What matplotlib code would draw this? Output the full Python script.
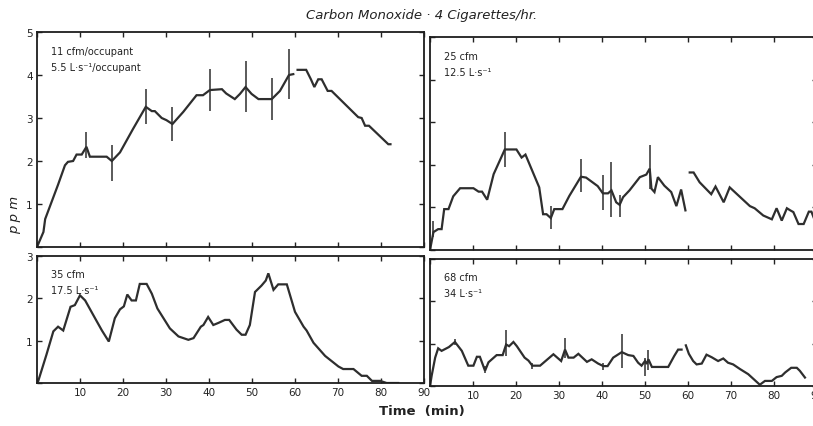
import matplotlib
matplotlib.use("Agg")
import matplotlib.pyplot as plt

# CO concentration (ppm) vs time (min), four ventilation rates
t11_a = [0, 1.5, 1.9, 3.4, 4.9, 6.5, 7.2, 8.4, 9.2, 10.4, 11.5, 12.3, 16.2, 17.4, 19.3, 22.3,
         25.3, 26.7, 27.4, 29.0, 30.1, 31.5, 34.0, 37.1, 38.6, 40.2, 43.0, 44.0, 46.0, 47.2,
         48.5, 49.9, 51.5, 54.6, 56.5, 58.6, 59.6]
co11_a = [0, 0.35, 0.65, 1.05, 1.45, 1.9, 1.98, 2.0, 2.15, 2.15, 2.33, 2.1, 2.1, 2.0, 2.2, 2.74,
          3.26, 3.16, 3.16, 3.0, 2.95, 2.86, 3.14, 3.53, 3.53, 3.65, 3.67, 3.57, 3.44, 3.56,
          3.72, 3.56, 3.44, 3.44, 3.63, 4.0, 4.02]
t11_b = [60.6, 62.6, 63.7, 64.5, 65.4, 66.2, 67.6, 68.5, 74.7, 75.5, 76.3, 77.2, 81.7, 82.2]
co11_b = [4.12, 4.12, 3.9, 3.72, 3.9, 3.9, 3.63, 3.63, 3.02, 3.0, 2.82, 2.82, 2.39, 2.39]
err11_t = [11.5, 17.4, 25.3, 31.5, 40.2, 48.5, 54.6, 58.6]
err11_lo = [2.07, 1.53, 2.86, 2.47, 3.16, 3.14, 2.95, 3.44]
err11_hi = [2.67, 2.37, 3.67, 3.26, 4.14, 4.33, 3.93, 4.6]

t25_a = [0, 0.8, 1.9, 2.7, 3.3, 4.3, 5.4, 7.0, 10.1, 11.3, 12.1, 13.3, 14.8, 17.4, 20.1, 21.3,
         22.2, 25.4, 26.3, 27.1, 28.1, 28.9, 30.8, 32.4, 35.1, 36.3, 39.0, 40.2, 41.4, 42.2,
         43.3, 44.1, 44.9, 46.4, 48.8, 50.3, 51.1, 51.5, 52.2, 53.0, 54.5, 56.1, 57.3, 58.4, 59.4]
co25_a = [0, 0.42, 0.49, 0.49, 0.96, 0.96, 1.26, 1.45, 1.45, 1.37, 1.37, 1.18, 1.78, 2.36, 2.36,
          2.17, 2.24, 1.47, 0.84, 0.84, 0.75, 0.96, 0.96, 1.27, 1.72, 1.7, 1.5, 1.33, 1.33, 1.4,
          1.12, 1.06, 1.24, 1.4, 1.71, 1.77, 1.91, 1.44, 1.36, 1.71, 1.51, 1.36, 1.03, 1.42, 0.93]
t25_b = [60.4, 61.3, 62.7, 65.4, 66.4, 68.3, 69.7, 74.4, 75.5, 77.5, 79.5, 80.6, 81.8, 83.0,
         83.8, 84.5, 85.7, 86.9, 88.1, 88.7, 89.8]
co25_b = [1.82, 1.82, 1.59, 1.31, 1.49, 1.12, 1.47, 1.03, 0.98, 0.81, 0.72, 0.98, 0.69, 0.98,
          0.93, 0.89, 0.61, 0.61, 0.9, 0.9, 0.61]
err25_t = [0.8, 17.4, 28.1, 35.1, 40.2, 42.2, 44.1, 51.1]
err25_lo = [0.3, 1.96, 0.49, 1.36, 0.95, 0.78, 0.78, 1.44]
err25_hi = [0.69, 2.76, 1.03, 2.13, 1.75, 2.07, 1.3, 2.46]

t35 = [0.3, 2.2, 3.8, 4.9, 6.1, 7.8, 8.8, 10.0, 11.2, 13.5, 15.1, 16.7, 18.1, 19.3, 20.2, 21.0,
       22.0, 23.0, 23.9, 25.5, 26.7, 28.0, 30.9, 32.9, 35.2, 36.4, 38.1, 38.7, 39.8, 41.0, 42.2,
       43.7, 44.7, 46.4, 47.6, 48.5, 49.5, 50.7, 52.2, 53.2, 53.8, 55.0, 56.1, 58.1, 60.0, 62.0,
       62.7, 64.3, 67.0, 70.1, 71.2, 73.6, 75.5, 76.7, 77.9, 79.8, 81.3, 84.0]
co35 = [0.05, 0.67, 1.22, 1.33, 1.24, 1.8, 1.84, 2.07, 1.95, 1.53, 1.24, 0.98, 1.53, 1.74, 1.81,
        2.09, 1.95, 1.95, 2.34, 2.34, 2.11, 1.76, 1.29, 1.1, 1.02, 1.06, 1.33, 1.37, 1.56, 1.37,
        1.42, 1.49, 1.49, 1.26, 1.14, 1.14, 1.37, 2.15, 2.3, 2.42, 2.59, 2.2, 2.33, 2.33, 1.68,
        1.33, 1.24, 0.95, 0.64, 0.39, 0.33, 0.33, 0.17, 0.17, 0.05, 0.05, 0.0, 0.0]

t68_a = [0, 0.4, 1.2, 1.9, 2.7, 4.4, 5.8, 7.4, 8.9, 10.1, 10.9, 11.6, 12.8, 13.6, 15.5, 16.9,
         17.7, 18.4, 19.4, 20.2, 22.0, 22.9, 23.8, 25.6, 28.7, 30.5, 31.4, 32.2, 33.4, 34.5,
         36.5, 37.6, 39.1, 40.3, 41.3, 42.6, 44.6, 46.1, 47.3, 48.4, 49.2, 50.0, 50.4, 50.8,
         51.6, 55.4, 56.8, 57.7, 58.5]
co68_a = [0, 0.25, 0.67, 0.89, 0.83, 0.92, 1.04, 0.83, 0.48, 0.48, 0.69, 0.69, 0.36, 0.56, 0.73,
          0.73, 0.98, 0.94, 1.04, 0.94, 0.67, 0.6, 0.48, 0.48, 0.75, 0.59, 0.86, 0.67, 0.67, 0.76,
          0.57, 0.63, 0.53, 0.47, 0.47, 0.67, 0.8, 0.73, 0.71, 0.55, 0.48, 0.59, 0.52, 0.63,
          0.45, 0.45, 0.71, 0.86, 0.86]
t68_b = [59.5, 60.2, 61.2, 62.0, 63.2, 64.3, 65.5, 67.0, 68.2, 69.3, 70.5, 72.1, 74.0, 76.7,
         77.9, 79.5, 80.6, 81.8, 82.6, 84.0, 85.3, 86.0, 87.2]
co68_b = [0.96, 0.76, 0.59, 0.51, 0.53, 0.74, 0.68, 0.59, 0.65, 0.55, 0.51, 0.4, 0.28, 0.03,
          0.12, 0.12, 0.21, 0.24, 0.32, 0.43, 0.43, 0.36, 0.2]
err68_t = [5.8, 12.8, 17.7, 23.8, 31.4, 40.3, 44.6, 50.0, 50.8]
err68_lo = [0.96, 0.3, 0.7, 0.4, 0.67, 0.38, 0.42, 0.24, 0.38]
err68_hi = [1.1, 0.48, 1.33, 0.55, 1.13, 0.55, 1.23, 0.67, 0.86]

LINE = "#2e2e2e"
W, H = 813, 427


def px_axes(fig, x0, y_bottom, w, h):
    """Add axes given in pixel units (origin top-left)."""
    return fig.add_axes([x0 / W, (H - y_bottom) / H, w / W, h / H])


def style(ax, ymax, ylabels, xlabels):
    ax.set_xlim(0, 90)
    ax.set_ylim(0, ymax)
    ax.set_xticks(range(0, 91, 10))
    ax.set_yticks(range(0, int(ymax) + 1))
    ax.tick_params(direction="in", top=True, right=True, length=3.5, width=1.0,
                   labelsize=7.5, colors="#222222", pad=3)
    if ylabels:
        ax.set_yticklabels([""] + [str(v) for v in range(1, int(ymax) + 1)])
    else:
        ax.set_yticklabels([])
    if xlabels:
        ax.set_xticklabels([""] + [str(v) for v in range(10, 91, 10)])
    else:
        ax.set_xticklabels([])
    for s in ax.spines.values():
        s.set_linewidth(1.3)
        s.set_color("#1e1e1e")


def curve(ax, x, y):
    ax.plot(x, y, color=LINE, lw=1.6, solid_joinstyle="miter")


def bars(ax, x, lo, hi):
    ax.vlines(x, lo, hi, color=LINE, lw=1.1)


def label(ax, lines, y0, dy):
    for i, s in enumerate(lines):
        ax.text(0.035, y0 - i * dy, s, transform=ax.transAxes, fontsize=7, va="center",
                color="#222222")


fig = plt.figure(figsize=(W / 100, H / 100), dpi=100)

ax1 = px_axes(fig, 37, 248, 387, 215)
style(ax1, 5, True, False)
curve(ax1, t11_a, co11_a)
curve(ax1, t11_b, co11_b)
bars(ax1, err11_t, err11_lo, err11_hi)
label(ax1, ["11 cfm/occupant", "5.5 L·s⁻¹/occupant"], 0.91, 0.075)

ax2 = px_axes(fig, 430, 251, 387, 213)
style(ax2, 5, False, False)
curve(ax2, t25_a, co25_a)
curve(ax2, t25_b, co25_b)
bars(ax2, err25_t, err25_lo, err25_hi)
label(ax2, ["25 cfm", "12.5 L·s⁻¹"], 0.91, 0.075)

ax3 = px_axes(fig, 37, 384, 387, 127)
style(ax3, 3, True, True)
curve(ax3, t35, co35)
label(ax3, ["35 cfm", "17.5 L·s⁻¹"], 0.86, 0.13)

ax4 = px_axes(fig, 430, 387, 387, 127)
style(ax4, 3, False, True)
curve(ax4, t68_a, co68_a)
curve(ax4, t68_b, co68_b)
bars(ax4, err68_t, err68_lo, err68_hi)
label(ax4, ["68 cfm", "34 L·s⁻¹"], 0.86, 0.13)

fig.text(422 / W, 1 - 15 / H, "Carbon Monoxide · 4 Cigarettes/hr.", ha="center", va="center",
         fontsize=9.5, style="italic", color="#222222")
fig.text(15 / W, 1 - 215 / H, "p p m", rotation=90, ha="center", va="center",
         fontsize=9.5, style="italic", color="#222222")
fig.text(422 / W, 1 - 412 / H, "Time  (min)", ha="center", va="center",
         fontsize=9.5, fontweight="bold", color="#222222")

fig.savefig("out.png", dpi=100)
